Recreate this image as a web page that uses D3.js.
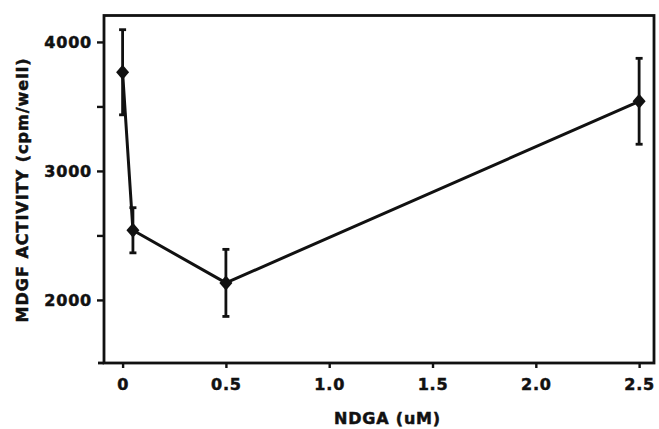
<!DOCTYPE html>
<html><head><meta charset="utf-8">
<script src="https://cdn.jsdelivr.net/npm/d3@7"></script>
<style>
body{margin:0;background:#fff;}
text{font-family:"DejaVu Sans",sans-serif;font-weight:bold;fill:#111;stroke:#111;stroke-width:0.5px;}
</style></head>
<body><svg id="c" width="659" height="429"></svg>
<script>
const doses = [0, 0.05, 0.5, 2.5];
const activity = [3765, 2540, 2132, 3540];
const errors = [330, 175, 260, 333];
const xTicks = [0, 0.5, 1.0, 1.5, 2.0, 2.5];
const xTickLabels = ["0", "0.5", "1.0", "1.5", "2.0", "2.5"];
const yTicks = [2000, 2500, 3000, 3500, 4000];
const yTickLabels = ["2000", "", "3000", "", "4000"];
const xTitle = "NDGA (uM)";
const yTitle = "MDGF ACTIVITY (cpm/well)";

const svg = d3.select("#c");
const L = 104, R = 654, T = 15.5, B = 363;
const x = d3.scaleLinear().domain([-0.09, 2.572]).range([L, R]);
const y = d3.scaleLinear().domain([1511, 4205]).range([B, T]);
const ink = "#111";

// frame
svg.append("rect").attr("x", L).attr("y", T).attr("width", R - L).attr("height", B - T)
  .attr("fill", "none").attr("stroke", ink).attr("stroke-width", 2.8);

// y axis
const ya = svg.append("g").attr("transform", `translate(${L},0)`)
  .call(d3.axisLeft(y).tickValues(yTicks).tickSize(7).tickPadding(5)
    .tickFormat((d, i) => yTickLabels[i]));
ya.select(".domain").remove();
ya.selectAll("line").attr("stroke", ink).attr("stroke-width", 2.4);
ya.selectAll("text").attr("font-size", 16).attr("letter-spacing", "0.8px").attr("fill", ink);

// x axis
const xa = svg.append("g").attr("transform", `translate(0,${B})`)
  .call(d3.axisBottom(x).tickValues(xTicks).tickSize(5).tickPadding(11)
    .tickFormat((d, i) => xTickLabels[i]));
xa.select(".domain").remove();
xa.selectAll("line").attr("stroke", ink).attr("stroke-width", 2.4);
xa.selectAll("text").attr("font-size", 16).attr("letter-spacing", "0.8px").attr("fill", ink);

// small extension at bottom-left
svg.append("line").attr("x1", L - 6).attr("x2", L).attr("y1", B).attr("y2", B)
  .attr("stroke", ink).attr("stroke-width", 2.8);

// titles
svg.append("text").attr("x", 387.5).attr("y", 424).attr("text-anchor", "middle")
  .attr("font-size", 16).attr("letter-spacing", "0.8px").text(xTitle);
svg.append("text").attr("transform", "translate(28,190) rotate(-90)")
  .attr("text-anchor", "middle").attr("font-size", 16).attr("letter-spacing", "1px").text(yTitle);

const data = doses.map((d, i) => ({x: d, y: activity[i], e: errors[i]}));

// connecting line
svg.append("path").datum(data)
  .attr("d", d3.line().x(d => x(d.x)).y(d => y(d.y)))
  .attr("fill", "none").attr("stroke", ink).attr("stroke-width", 3).attr("stroke-linejoin", "round");

// error bars
const eb = svg.append("g").attr("stroke", ink).attr("stroke-width", 2.8);
data.forEach(d => {
  const cx = x(d.x);
  eb.append("line").attr("x1", cx).attr("x2", cx).attr("y1", y(d.y - d.e)).attr("y2", y(d.y + d.e));
  [d.y - d.e, d.y + d.e].forEach(v => {
    eb.append("line").attr("x1", cx - 3.5).attr("x2", cx + 3.5).attr("y1", y(v)).attr("y2", y(v));
  });
});

// diamonds
svg.append("g").selectAll("path").data(data).join("path")
  .attr("transform", d => `translate(${x(d.x)},${y(d.y)})`)
  .attr("d", "M0,-7.5L6.5,0L0,7.5L-6.5,0Z").attr("fill", ink);
</script></body></html>
